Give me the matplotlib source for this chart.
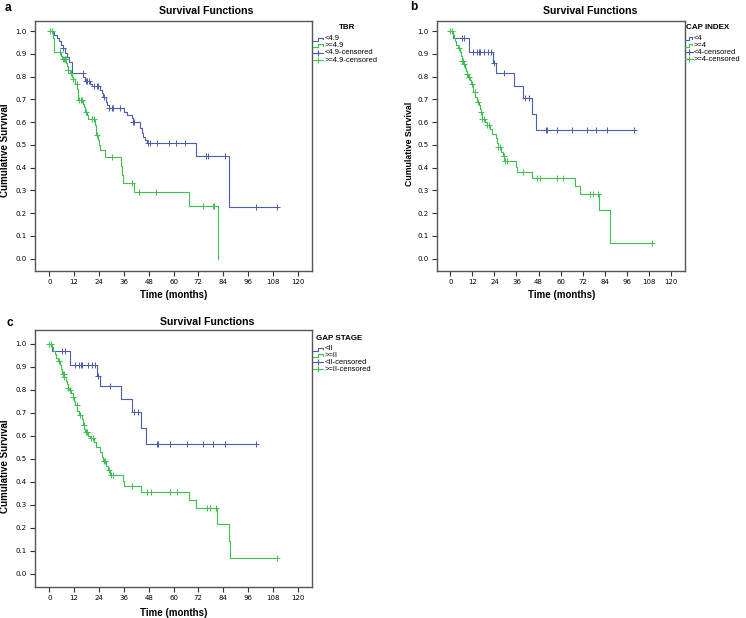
import numpy as np
import matplotlib
matplotlib.use("Agg")
import matplotlib.pyplot as plt
from matplotlib.lines import Line2D

# ---------------------------------------------------------------
# Kaplan-Meier curves (months, survival)
# ---------------------------------------------------------------
# panel a: TBR
a_lo_time = [2.5, 3.5, 4.5, 5.5, 6.5, 7.5, 8.5, 9.5, 11.0, 16.4, 17.2, 19.7, 20.5, 24.5,
             25.3, 26.1, 27.4, 28.0, 28.7, 36.3, 37.4, 39.8, 40.4, 43.8, 44.6, 45.1,
             46.1, 47.0, 70.8, 86.7, 87.0]
a_lo_surv = [0.985, 0.97, 0.955, 0.94, 0.925, 0.905, 0.885, 0.865, 0.818, 0.80, 0.78,
             0.77, 0.758, 0.742, 0.727, 0.71, 0.69, 0.675, 0.661, 0.645, 0.632, 0.617,
             0.603, 0.575, 0.552, 0.537, 0.52, 0.508, 0.452, 0.338, 0.226]
a_lo_cens = [6.6, 16.1, 17.7, 18.4, 19.2, 21.7, 22.9, 23.7, 26.6, 29.0, 30.1, 30.9, 34.1,
             40.6, 41.1, 47.5, 48.5, 52.2, 57.8, 61.3, 65.6, 75.9, 76.9, 85.0, 99.7, 109.9]

a_hi_time = [1.9, 2.1, 2.4, 5.6, 6.2, 8.2, 8.6, 9.0, 9.8, 10.8, 11.3, 12.5, 13.6, 13.8,
             14.0, 16.1, 16.7, 17.2, 18.1, 18.5, 22.0, 22.4, 22.8, 23.4, 23.8, 24.5, 26.8,
             34.6, 35.0, 35.6, 40.9, 67.5, 81.3]
a_hi_surv = [0.97, 0.94, 0.909, 0.893, 0.877, 0.862, 0.846, 0.83, 0.815, 0.80, 0.789,
             0.768, 0.745, 0.722, 0.698, 0.682, 0.665, 0.646, 0.63, 0.613, 0.59, 0.567,
             0.544, 0.522, 0.50, 0.478, 0.446, 0.408, 0.368, 0.334, 0.295, 0.232, 0.0]
a_hi_cens = [0.3, 1.5, 5.0, 6.8, 7.2, 7.6, 7.9, 9.2, 10.3, 11.6, 13.2, 14.5, 15.1, 15.6,
             17.5, 20.6, 21.7, 22.9, 30.3, 39.8, 43.2, 51.7, 74.2, 79.0, 79.8]

# panel b: GAP index (panel c, GAP stage, shows the same curves)
b_lo_time = [1.4, 10.1, 23.2, 24.6, 34.5, 39.8, 44.3, 46.8]
b_lo_surv = [0.97, 0.91, 0.862, 0.815, 0.76, 0.705, 0.635, 0.565]
b_lo_cens = [6.2, 7.5, 12.6, 14.3, 15.4, 15.9, 18.5, 20.5, 22.3, 23.7, 29.3, 40.8, 42.8,
             52.0, 52.4, 58.2, 66.3, 74.2, 79.1, 85.1, 100.0]

b_hi_time = [1.4, 2.0, 2.6, 3.3, 4.0, 5.2, 5.8, 6.3, 7.1, 8.1, 8.5, 8.8, 9.6, 10.5, 11.3,
             12.1, 12.6, 13.4, 14.5, 15.7, 16.2, 16.5, 17.0, 17.3, 18.6, 19.7, 21.8, 22.6,
             24.7, 25.5, 26.0, 27.5, 28.6, 29.4, 35.5, 36.3, 44.5, 67.7, 70.7, 81.0, 86.8,
             87.1]
b_hi_surv = [0.985, 0.97, 0.955, 0.94, 0.925, 0.91, 0.89, 0.87, 0.855, 0.84, 0.825, 0.81,
             0.80, 0.785, 0.77, 0.752, 0.735, 0.71, 0.69, 0.675, 0.66, 0.645, 0.63, 0.615,
             0.60, 0.59, 0.572, 0.55, 0.53, 0.51, 0.49, 0.47, 0.45, 0.43, 0.405, 0.38,
             0.355, 0.32, 0.285, 0.215, 0.145, 0.07]
b_hi_cens = [0.0, 0.8, 4.5, 6.4, 6.9, 7.2, 8.9, 9.9, 11.6, 13.2, 15.0, 16.6, 17.5, 18.1,
             20.2, 21.0, 26.2, 27.1, 29.0, 29.9, 30.7, 39.8, 47.3, 49.0, 58.2, 61.6, 76.1,
             77.6, 80.4, 110.0]

x_ticks = [0, 12, 24, 36, 48, 60, 72, 84, 96, 108, 120]
y_ticks = [0.0, 0.1, 0.2, 0.3, 0.4, 0.5, 0.6, 0.7, 0.8, 0.9, 1.0]

BLUE = "#4b5db2"
GREEN = "#3fbf4f"
FONT = "Liberation Sans"
W, H = 746, 618

fig = plt.figure(figsize=(W / 100, H / 100), dpi=100)


def fx(x):
    return x / W


def fy(y):
    return 1 - y / H


def km_line(times, surv, cens):
    end = max(times[-1], max(cens))
    xs = np.concatenate([[0.0], times, [end]])
    ys = np.concatenate([[1.0], surv, [surv[-1]]])
    vals = np.concatenate([[1.0], surv])
    cy = vals[np.searchsorted(times, cens, side="right")]
    return xs, ys, cy


def draw_panel(box, xlim, ylim, curves):
    left, top, right, bottom = box
    ax = fig.add_axes([fx(left), fy(bottom), (right - left) / W, (bottom - top) / H])
    for times, surv, cens, color in curves:
        xs, ys, cy = km_line(times, surv, cens)
        ax.step(xs, ys, where="post", color=color, lw=0.8)
        ax.plot(cens, cy, ls="none", marker="+", ms=4.5, mew=0.7, color=color)
    ax.set_xlim(*xlim)
    ax.set_ylim(*ylim)
    ax.set_xticks(x_ticks)
    ax.set_yticks(y_ticks)
    ax.set_yticklabels([f"{v:.1f}" for v in y_ticks])
    ax.tick_params(direction="out", length=3.5, width=0.8, labelsize=5, pad=2.5,
                   color="#333333")
    for s in ax.spines.values():
        s.set_color("#555555")
        s.set_linewidth(1.0)
    return ax


def draw_legend(title, title_xy, labels, x0, rows, text_x, gw=10):
    fig.text(fx(title_xy[0]), fy(title_xy[1]), title, ha="center", va="center",
             fontsize=5.8, fontweight="bold", family=FONT)
    for i, (lab, y) in enumerate(zip(labels, rows)):
        color = BLUE if i % 2 == 0 else GREEN
        if i < 2:
            px = [x0, x0 + gw * 0.5, x0 + gw * 0.5, x0 + gw * 0.95, x0 + gw * 0.95]
            py = [y + 1.5, y + 1.5, y - 1.5, y - 1.5, y]
            fig.add_artist(Line2D([fx(p) for p in px], [fy(p) for p in py],
                                  color=color, lw=0.8, transform=fig.transFigure))
        else:
            fig.add_artist(Line2D([fx(x0), fx(x0 + gw)], [fy(y), fy(y)], color=color,
                                  lw=0.8, transform=fig.transFigure))
            fig.add_artist(Line2D([fx(x0 + gw * 0.5)], [fy(y)], marker="+", ms=5,
                                  mew=0.8, color=color, transform=fig.transFigure))
        fig.text(fx(text_x), fy(y), lab, ha="left", va="center", fontsize=5.4,
                 family=FONT)


# ---------------------------------------------------------------
# panel a
# ---------------------------------------------------------------
draw_panel((35, 21, 312, 271), (-6.9, 126.9), (-0.054, 1.045),
           [(a_lo_time, a_lo_surv, a_lo_cens, BLUE),
            (a_hi_time, a_hi_surv, a_hi_cens, GREEN)])
fig.text(fx(7.5), fy(8), "a", ha="center", va="center", fontsize=8.5,
         fontweight="bold", family=FONT)
fig.text(fx(206.5), fy(11.5), "Survival Functions", ha="center", va="center",
         fontsize=7.6, fontweight="bold", family=FONT)
fig.text(fx(5.5), fy(150), "Cumulative Survival", ha="center", va="center",
         rotation=90, fontsize=7, fontweight="bold", family=FONT)
fig.text(fx(174), fy(295), "Time (months)", ha="center", va="center", fontsize=7,
         fontweight="bold", family=FONT)
draw_legend("TBR", (347, 27.5), ["<4.9", ">=4.9", "<4.9-censored", ">=4.9-censored"],
            313, [39, 45.7, 53, 60], 324.5)

# ---------------------------------------------------------------
# panel b
# ---------------------------------------------------------------
draw_panel((437.3, 21, 684.7, 271), (-7.1, 127.6), (-0.054, 1.045),
           [(b_lo_time, b_lo_surv, b_lo_cens, BLUE),
            (b_hi_time, b_hi_surv, b_hi_cens, GREEN)])
fig.text(fx(414), fy(7.5), "b", ha="center", va="center", fontsize=8.5,
         fontweight="bold", family=FONT)
fig.text(fx(590.5), fy(11.5), "Survival Functions", ha="center", va="center",
         fontsize=7.6, fontweight="bold", family=FONT)
fig.text(fx(409), fy(144), "Cumulative Survival", ha="center", va="center",
         rotation=90, fontsize=6.3, fontweight="bold", family=FONT)
fig.text(fx(561.5), fy(295), "Time (months)", ha="center", va="center", fontsize=7,
         fontweight="bold", family=FONT)
draw_legend("CAP INDEX", (708, 27.3), ["<4", ">=4", "<4-censored", ">=4-censored"],
            685, [38.5, 45.2, 52.3, 59.3], 693.5, gw=7.5)

# ---------------------------------------------------------------
# panel c
# ---------------------------------------------------------------
draw_panel((35, 330, 312, 587), (-6.9, 126.9), (-0.057, 1.06),
           [(b_lo_time, b_lo_surv, b_lo_cens, BLUE),
            (b_hi_time, b_hi_surv, b_hi_cens, GREEN)])
fig.text(fx(9.5), fy(323.5), "c", ha="center", va="center", fontsize=8.5,
         fontweight="bold", family=FONT)
fig.text(fx(206.7), fy(321.7), "Survival Functions", ha="center", va="center",
         fontsize=7.6, fontweight="bold", family=FONT)
fig.text(fx(5.5), fy(466), "Cumulative Survival", ha="center", va="center",
         rotation=90, fontsize=7, fontweight="bold", family=FONT)
fig.text(fx(174), fy(612.5), "Time (months)", ha="center", va="center", fontsize=7,
         fontweight="bold", family=FONT)
draw_legend("GAP STAGE", (339.3, 338.3), ["<II", ">=II", "<II-censored", ">=II-censored"],
            313, [349, 355.7, 362.3, 369.3], 324.5)

fig.savefig("out.png", dpi=100)
